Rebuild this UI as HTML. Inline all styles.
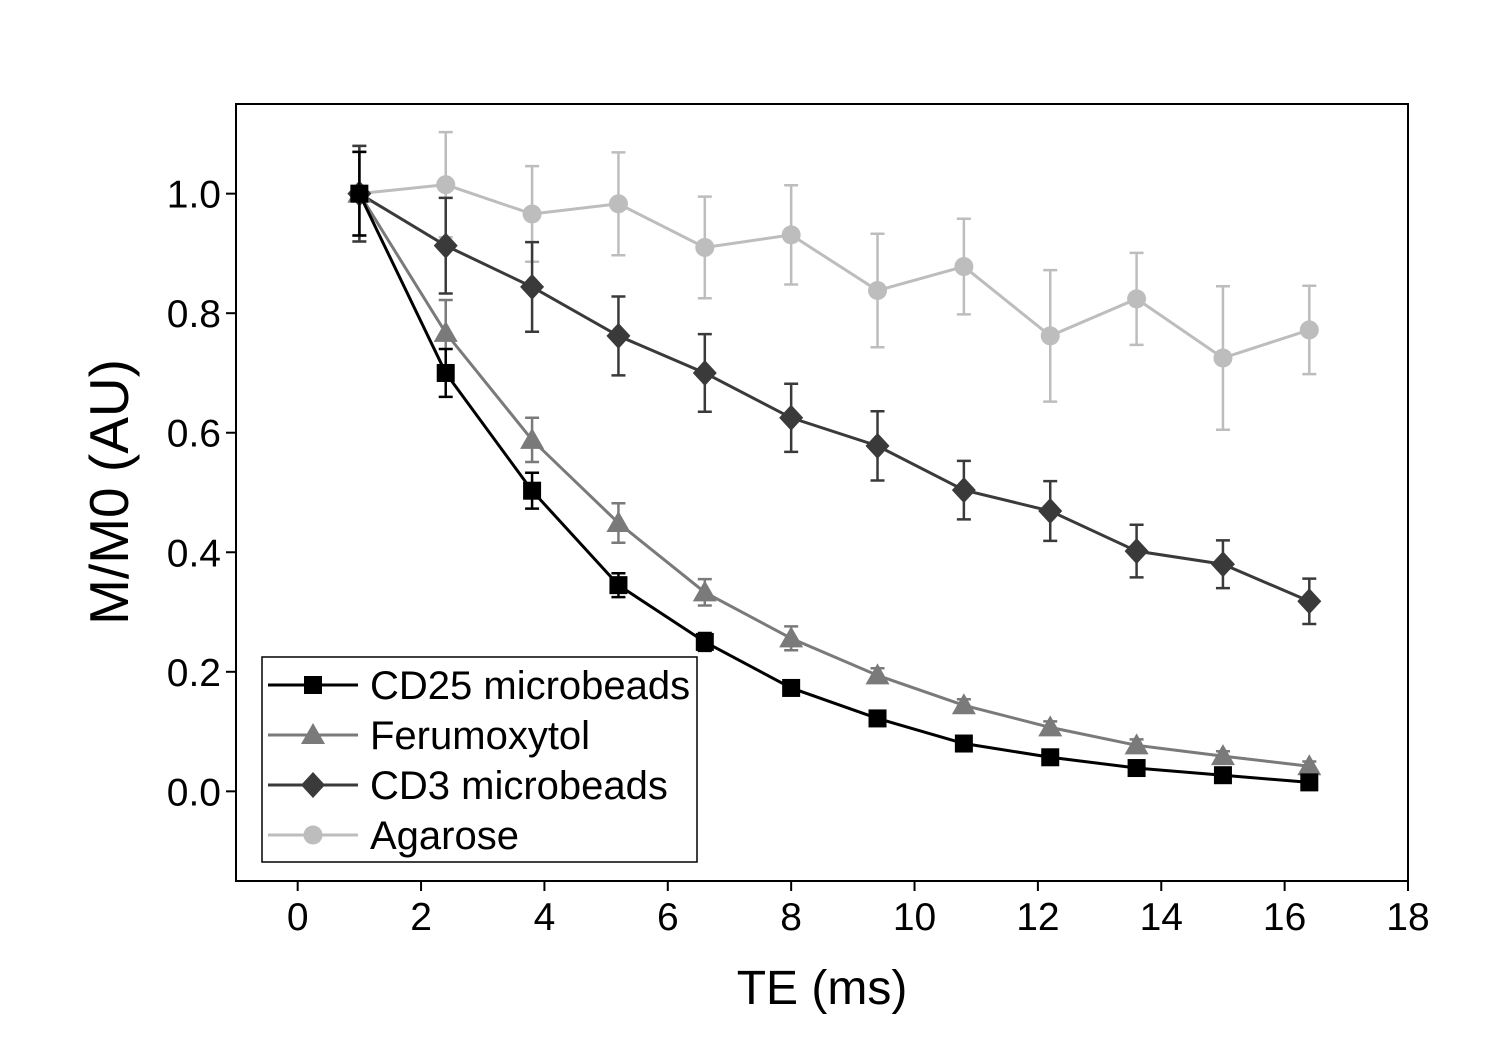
<!DOCTYPE html>
<html><head><meta charset="utf-8"><style>
html,body{margin:0;padding:0;background:#fff;}
svg{display:block;font-family:"Liberation Sans",Arial,sans-serif;}
</style></head><body>
<svg id="chart" width="1500" height="1050" viewBox="0 0 1500 1050"></svg>
<script>
const xValues = [1, 2.4, 3.8, 5.2, 6.6, 8, 9.4, 10.8, 12.2, 13.6, 15, 16.4];
const cd25 = [1.0, 0.70, 0.503, 0.345, 0.25, 0.173, 0.122, 0.08, 0.057, 0.039, 0.027, 0.015];
const cd25Err = [0.07, 0.04, 0.03, 0.02, 0.015, 0.012, 0.01, 0.01, 0.008, 0.008, 0.006, 0.006];
const feru = [1.0, 0.767, 0.588, 0.449, 0.333, 0.256, 0.194, 0.144, 0.107, 0.077, 0.059, 0.042];
const feruErr = [0.07, 0.055, 0.037, 0.033, 0.022, 0.02, 0.012, 0.01, 0.01, 0.01, 0.008, 0.008];
const cd3 = [1.0, 0.913, 0.844, 0.762, 0.700, 0.625, 0.578, 0.504, 0.469, 0.402, 0.380, 0.318];
const cd3Err = [0.08, 0.08, 0.075, 0.066, 0.065, 0.057, 0.058, 0.049, 0.05, 0.044, 0.04, 0.038];
const agar = [1.0, 1.015, 0.966, 0.983, 0.91, 0.931, 0.838, 0.878, 0.762, 0.824, 0.725, 0.772];
const agarErr = [0.08, 0.088, 0.08, 0.086, 0.085, 0.083, 0.095, 0.08, 0.11, 0.077, 0.12, 0.074];
const xTicks = [0, 2, 4, 6, 8, 10, 12, 14, 16, 18];
const yTicks = [0.0, 0.2, 0.4, 0.6, 0.8, 1.0];
const seriesNames = ["CD25 microbeads", "Ferumoxytol", "CD3 microbeads", "Agarose"];

const L=236,R=1408,T=104,B=881, XMIN=-1,XMAX=18,YMIN=-0.15,YMAX=1.15;
const sx=v=>L+(v-XMIN)/(XMAX-XMIN)*(R-L);
const sy=v=>B-(v-YMIN)/(YMAX-YMIN)*(B-T);
const svg=document.getElementById('chart');
const NS='http://www.w3.org/2000/svg';
function mk(tag,attrs,parent){const e=document.createElementNS(NS,tag);for(const k in attrs)e.setAttribute(k,attrs[k]);(parent||svg).appendChild(e);return e;}

const frame=mk('rect',{x:L,y:T,width:R-L,height:B-T,fill:'none',stroke:'#000','stroke-width':2});



xTicks.forEach(v=>{
  const t=mk('line',{x1:sx(v),x2:sx(v),y1:B,y2:B+10,stroke:'#000','stroke-width':2});
  
  
  const lb=mk('text',{x:sx(v),y:B+49,'font-size':39,'text-anchor':'middle',fill:'#000'});
  lb.textContent=v;
  
  
});
yTicks.forEach(v=>{
  const t=mk('line',{x1:L-10,x2:L,y1:sy(v),y2:sy(v),stroke:'#000','stroke-width':2});
  
  
  const lb=mk('text',{x:L-15,y:sy(v)+14,'font-size':39,'text-anchor':'end',fill:'#000'});
  lb.textContent=v.toFixed(1);
  
  
});
const xt=mk('text',{x:822,y:1004,'font-size':48,'text-anchor':'middle',fill:'#000'});
xt.textContent='TE (ms)';


const yt=mk('text',{x:0,y:0,'font-size':55,'text-anchor':'middle',fill:'#000',transform:'translate(128,492) rotate(-90)'});
yt.textContent='M/M0 (AU)';



function marker(type,x,y,color,parent){
  let e;
  if(type==='square')e=mk('rect',{x:x-9,y:y-9,width:18,height:18,fill:color},parent);
  else if(type==='triangle')e=mk('polygon',{points:`${x},${y-12} ${x+12},${y+9} ${x-12},${y+9}`,fill:color},parent);
  else if(type==='diamond')e=mk('polygon',{points:`${x},${y-13} ${x+12},${y} ${x},${y+13} ${x-12},${y}`,fill:color},parent);
  else e=mk('circle',{cx:x,cy:y,r:9.5,fill:color},parent);
  return e;
}
const series=[
  {vals:agar,err:agarErr,color:'#bdbdbd',m:'circle',key:'agarose'},
  {vals:cd3,err:cd3Err,color:'#3a3a3a',m:'diamond',key:'cd3'},
  {vals:feru,err:feruErr,color:'#7a7a7a',m:'triangle',key:'ferumoxytol'},
  {vals:cd25,err:cd25Err,color:'#000',m:'square',key:'cd25'}
];
series.forEach(s=>{
  const g=mk('g',{});
  
  
  s.vals.forEach((v,i)=>{
    const x=sx(xValues[i]),y1=sy(v+s.err[i]),y2=sy(v-s.err[i]);
    const eb=mk('path',{d:`M${x},${y1}V${y2}M${x-7},${y1}H${x+7}M${x-7},${y2}H${x+7}`,stroke:s.color,'stroke-width':2.5,fill:'none'},g);
    
    
  });
  const pts=s.vals.map((v,i)=>sx(xValues[i])+','+sy(v)).join(' ');
  const pl=mk('polyline',{points:pts,fill:'none',stroke:s.color,'stroke-width':3},g);
  
  
  s.vals.forEach((v,i)=>{
    const m=marker(s.m,sx(xValues[i]),sy(v),s.color,g);
    
    
  });
});

const lg=mk('g',{});


const lbox=mk('rect',{x:262,y:657,width:435,height:205,fill:'#fff',stroke:'#000','stroke-width':1.5},lg);


const legStyle=[series[3],series[2],series[1],series[0]];
seriesNames.forEach((n,i)=>{
  const y=685+i*50, s=legStyle[i];
  const ent=mk('g',{},lg);
  
  
  mk('line',{x1:268,x2:358,y1:y,y2:y,stroke:s.color,'stroke-width':3},ent);
  marker(s.m,313,y,s.color,ent);
  const t=mk('text',{x:370,y:y+14,'font-size':40,fill:'#000'},ent);
  t.textContent=n;
});
</script>
</body></html>
